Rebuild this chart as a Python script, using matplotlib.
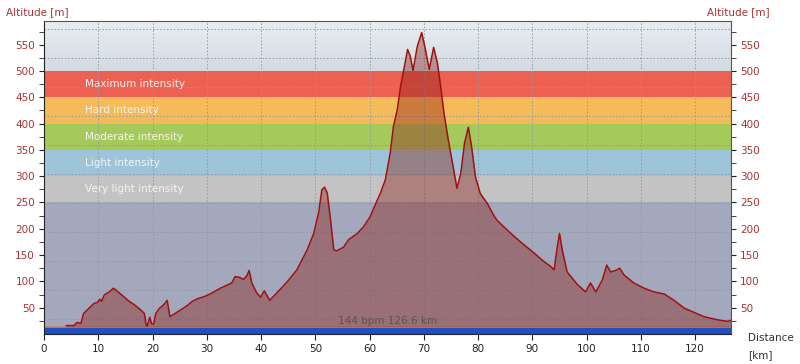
import numpy as np
import matplotlib
matplotlib.use('Agg')
import matplotlib.pyplot as plt
from matplotlib.colors import LinearSegmentedColormap

# Perfil de altitud (km, m)
km = [4.1, 5.5, 6.1, 6.8, 7.3, 8.0, 9.2, 9.8, 10.3, 10.6, 11.1, 12.0, 12.8, 13.2,
      14.8, 15.7, 16.6, 17.8, 18.5, 18.8, 19.0, 19.5, 19.8, 20.2, 20.6, 21.2, 22.1,
      22.7, 23.2, 24.0, 25.2, 26.4, 27.3, 28.3, 29.5, 30.6, 32.5, 34.6, 35.2, 35.9,
      36.8, 37.4, 37.8, 38.3, 39.2, 39.9, 40.6, 41.6, 42.9, 44.8, 46.6, 48.5, 49.7,
      50.6, 51.2, 51.7, 52.2, 52.8, 53.4, 53.9, 55.2, 56.1, 57.7, 58.9, 60.1, 60.8,
      62.0, 62.9, 63.8, 64.4, 65.1, 65.7, 66.3, 67.0, 67.5, 68.0, 68.8, 69.6, 70.3,
      71.0, 71.8, 72.5, 73.1, 73.7, 74.6, 75.4, 76.1, 76.8, 77.5, 78.2, 78.8, 79.5,
      80.4, 81.7, 82.9, 83.5, 84.7, 86.6, 88.4, 90.3, 92.1, 93.4, 94.0, 94.6, 95.0,
      95.5, 96.4, 98.3, 99.8, 100.7, 101.7, 102.9, 103.7, 104.4, 105.4, 106.1, 106.9,
      108.7, 110.6, 112.4, 114.3, 116.1, 118.0, 119.8, 121.6, 124.1, 126.0, 126.6]
alt = [16, 16, 22, 20, 39, 46, 58, 60, 66, 62, 74, 80, 87, 84,
       70, 62, 56, 46, 39, 18, 15, 32, 20, 19, 39, 48, 56,
       64, 33, 38, 46, 54, 62, 67, 71, 76, 87, 97, 109, 108,
       104, 111, 121, 97, 78, 70, 82, 64, 78, 99, 122, 160, 191,
       230, 274, 279, 268, 217, 160, 158, 165, 179, 191, 204, 223, 240,
       268, 293, 344, 395, 426, 470, 502, 541, 528, 501, 547, 573, 540,
       503, 545, 515, 470, 420, 363, 318, 277, 305, 363, 393, 356, 299,
       267, 248, 225, 216, 204, 186, 170, 154, 138, 128, 122, 166, 191,
       160, 118, 94, 80, 97, 80, 103, 131, 118, 121, 125, 112,
       97, 87, 80, 76, 64, 49, 41, 33, 27, 24, 26]

# Zonas de intensidad
zonas = ['Very light intensity', 'Light intensity', 'Moderate intensity',
         'Hard intensity', 'Maximum intensity']
zona_lim = [250, 300, 350, 400, 450, 500]
zona_col = ['#c3c3c3', '#9dc4d8', '#a6c95c', '#f5ba5a', '#ec6151']

x_max = 126.6
y_max = 595
grid_y = [28.5, 83.7, 138.9, 194.1, 249.3, 304.5, 359.7, 414.9, 470.1, 525.3, 580.5]
info = '144 bpm 126.6 km'

rojo = '#a83232'

fig = plt.figure(figsize=(8, 3.64), dpi=100)
ax = fig.add_axes([44 / 800, 1 - 334 / 364, 687 / 800, 313 / 364])
ax.set_xlim(0, x_max)
ax.set_ylim(0, y_max)

# Fondo
ax.axhspan(0, 250, color='#a3a8bc', zorder=0, lw=0)
cmap = LinearSegmentedColormap.from_list('fondo', ['#d2dbe2', '#e9edf1'])
grad = np.linspace(0, 1, 100).reshape(-1, 1)
ax.imshow(grad, cmap=cmap, extent=[0, x_max, 500, y_max], origin='lower',
          aspect='auto', zorder=0)
for i, nombre in enumerate(zonas):
    ax.axhspan(zona_lim[i], zona_lim[i + 1], color=zona_col[i], zorder=0.5, lw=0)
    ax.text(7.5, (zona_lim[i] + zona_lim[i + 1]) / 2, nombre, color='#f4f4f4',
            fontsize=7.5, va='center', ha='left', zorder=3)

# Rejilla punteada
for gy in grid_y:
    ax.axhline(gy, color='#9199a4', lw=0.7, ls=(0, (1.5, 2)), zorder=1)
for gx in range(10, 130, 10):
    ax.axvline(gx, color='#9199a4', lw=0.7, ls=(0, (1.5, 2)), zorder=1)

# Barra azul inferior
ax.axhspan(0, 13, color='#1f4fc4', zorder=2, lw=0)
ax.axhline(13.5, color='#c08a5a', lw=1.2, zorder=2)

# Perfil
ax.fill_between(km, alt, 14, color='#8c1e14', alpha=0.4, lw=0, zorder=2)
ax.plot(km, alt, color='#a01010', lw=1.1, zorder=3)

ax.text(x_max / 2, 16, info, color='#555555', fontsize=7.5, ha='center',
        va='bottom', zorder=3)

# Ejes
ax.set_xticks(range(0, 130, 10))
ax.set_yticks(range(50, 600, 50))
ax.set_yticks(range(25, 600, 50), minor=True)
ax.tick_params(axis='x', direction='out', length=4, colors='#222222',
               labelsize=7.5, pad=3)
ax.tick_params(axis='y', which='both', direction='out', length=3.5, colors='#222222',
               labelcolor=rojo, labelsize=7.5, left=True, right=True,
               labelleft=True, labelright=True, pad=3)
for lado in ['left', 'bottom']:
    ax.spines[lado].set_color('#222222')
for lado in ['top', 'right']:
    ax.spines[lado].set_color('#555555')

fig.text(6 / 800, 1 - 12 / 364, 'Altitude [m]', color=rojo, fontsize=7.5,
         ha='left', va='center')
fig.text(770 / 800, 1 - 12 / 364, 'Altitude [m]', color=rojo, fontsize=7.5,
         ha='right', va='center')
fig.text(748 / 800, 1 - 338 / 364, 'Distance', color='#333333', fontsize=7.5,
         ha='left', va='center')
fig.text(748 / 800, 1 - 355 / 364, '[km]', color='#333333', fontsize=7.5,
         ha='left', va='center')

fig.savefig('out.png', dpi=100)
